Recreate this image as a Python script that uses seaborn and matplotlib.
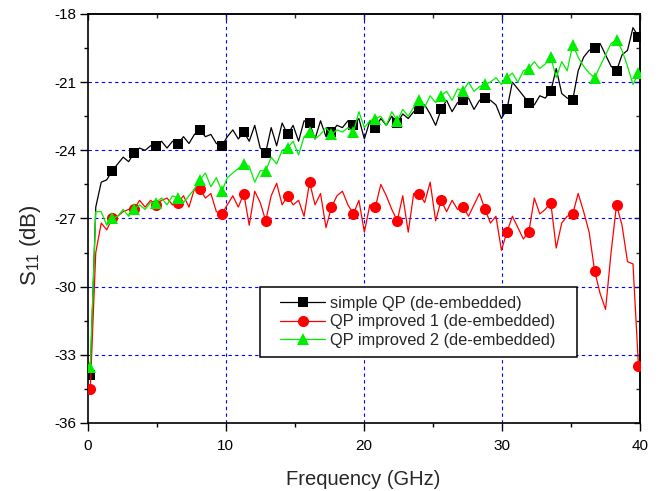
import numpy as np
import pandas as pd
import matplotlib
matplotlib.use("Agg")
import matplotlib.pyplot as plt
import seaborn as sns
from matplotlib.ticker import MultipleLocator, NullFormatter
from matplotlib.patches import Rectangle

sns.set_style("ticks")
plt.rcParams['font.family'] = ['Liberation Sans', 'DejaVu Sans']
plt.rcParams['axes.unicode_minus'] = False
plt.rcParams['mathtext.fontset'] = 'custom'
plt.rcParams['mathtext.rm'] = 'Liberation Sans'
plt.rcParams['mathtext.it'] = 'Liberation Sans'

# frequency grid (GHz)
freq = np.round(np.linspace(0.2, 39.9, 101), 3)

simple_qp = [
    -33.9,
    -26.5, -25.4, -25.3, -24.9,
    -24.6, -24.3, -24.5, -24.1,
    -23.9, -24.0, -23.8, -23.8,
    -23.6, -23.9, -23.6, -23.7,
    -23.4, -23.7, -23.3, -23.1,
    -23.4, -23.3, -23.7, -23.8,
    -23.4, -23.1, -23.5, -23.2,
    -23.6, -22.9, -23.9, -24.1,
    -23.0, -23.8, -22.8, -23.3,
    -22.9, -23.6, -22.7, -22.8,
    -23.5, -22.7, -23.4, -23.2,
    -22.9, -23.0, -22.7, -22.9,
    -22.6, -23.5, -22.7, -23.0,
    -22.6, -22.9, -22.5, -22.8,
    -22.4, -22.6, -22.3, -22.2,
    -22.0, -22.4, -22.9, -22.2,
    -21.8, -22.3, -21.9, -21.8,
    -21.7, -22.2, -21.8, -21.7,
    -21.8, -22.0, -22.6, -22.2,
    -21.0, -21.3, -21.6, -21.9,
    -22.0, -21.6, -21.7, -21.4,
    -20.4, -21.5, -21.7, -21.8,
    -20.5, -19.9, -19.6, -19.5,
    -19.3, -19.8, -20.3, -20.5,
    -19.8, -19.6, -18.6, -19.0,
]

qp_improved_1 = [
    -34.5,
    -28.5, -27.2, -27.5, -27.0,
    -26.9, -26.7, -26.6, -26.6,
    -26.2, -26.5, -26.2, -26.4,
    -26.2, -26.1, -26.4, -26.3,
    -26.0, -26.5, -25.7, -25.7,
    -26.1, -25.9, -26.7, -26.8,
    -26.4, -26.0, -26.5, -25.9,
    -27.3, -25.8, -26.3, -27.1,
    -26.0, -25.45, -26.4, -26.0,
    -26.4, -26.2, -26.9, -25.4,
    -26.4, -25.9, -27.4, -26.5,
    -26.0, -25.8, -26.4, -26.8,
    -26.2, -27.6, -26.4, -26.5,
    -25.5, -26.0, -26.6, -27.1,
    -26.0, -27.6, -25.9, -25.9,
    -26.3, -25.4, -27.1, -26.2,
    -26.7, -26.2, -26.6, -26.5,
    -26.9, -26.4, -25.9, -26.6,
    -27.2, -26.9, -28.4, -27.6,
    -26.9, -27.4, -27.9, -27.6,
    -26.1, -26.8, -26.6, -26.3,
    -28.3, -27.2, -26.9, -26.8,
    -25.9, -26.7, -27.6, -29.3,
    -30.3, -31.0, -28.5, -26.4,
    -27.3, -28.9, -29.0, -33.5,
]

qp_improved_2 = [
    -33.55,
    -26.7, -26.7, -27.3, -27.0,
    -26.9, -26.6, -26.9, -26.6,
    -26.4, -26.6, -26.3, -26.3,
    -26.1, -26.4, -26.0, -26.1,
    -26.3, -26.0, -25.7, -25.3,
    -25.0, -25.6, -25.2, -25.8,
    -25.2, -25.0, -24.8, -24.6,
    -24.7, -25.4, -24.9, -24.9,
    -24.3, -24.6, -24.0, -23.9,
    -23.6, -24.2, -23.4, -23.2,
    -23.5, -23.3, -23.0, -23.3,
    -23.1, -23.2, -23.0, -23.2,
    -22.3, -23.0, -22.7, -22.6,
    -22.5, -22.9, -22.3, -22.7,
    -22.2, -22.5, -22.1, -21.8,
    -22.1, -21.6, -21.9, -21.6,
    -21.4, -21.8, -21.3, -21.4,
    -21.0, -21.4, -21.2, -21.1,
    -21.0, -20.8, -21.1, -20.8,
    -20.6, -21.0, -20.5, -20.4,
    -20.1, -20.4, -20.2, -19.9,
    -20.8, -20.1, -20.5, -19.35,
    -19.9, -20.3, -20.6, -20.8,
    -20.3, -19.8, -19.3, -19.15,
    -19.6, -20.3, -21.1, -20.6,
]

labels = ["simple QP (de-embedded)", "QP improved 1 (de-embedded)", "QP improved 2 (de-embedded)"]
series = [simple_qp, qp_improved_1, qp_improved_2]
colors = ["#000000", "#ff0000", "#00ee00"]
markers = ["s", "o", "^"]
msizes = [7, 8, 8.5]

fig = plt.figure(figsize=(6.61, 4.91), dpi=100)
ax = fig.add_axes([0.1324, 0.1385, 0.8356, 0.833])

for lab, vals, c, m, ms in zip(labels, series, colors, markers, msizes):
    df = pd.DataFrame({"f": freq, "s": vals})
    sns.lineplot(data=df, x="f", y="s", ax=ax, color=c, lw=0.9,
                 marker=m, markersize=ms, markevery=4, markeredgewidth=0,
                 markerfacecolor=c, label=lab, sort=False, estimator=None,
                 zorder=3)

ax.set_xlim(0, 40)
ax.set_ylim(-36, -18)
ax.xaxis.set_major_locator(MultipleLocator(10))
ax.xaxis.set_minor_locator(MultipleLocator(5))
ax.yaxis.set_major_locator(MultipleLocator(3))
ax.yaxis.set_minor_locator(MultipleLocator(1.5))

for v in [10, 20, 30]:
    ax.axvline(v, color="#0000ff", lw=0.8, ls=(0, (3, 3)), zorder=1)
for v in [-21, -24, -27, -30, -33]:
    ax.axhline(v, color="#0000ff", lw=0.8, ls=(0, (3, 3)), zorder=1)

for sp in ax.spines.values():
    sp.set_linewidth(1.2)
    sp.set_color("black")

ax.tick_params(which="both", direction="out", width=1.0, labelsize=11, colors="black")
ax.tick_params(which="major", length=5.8)
ax.tick_params(which="minor", length=3.0)
ax.tick_params(axis="x", which="major", pad=6)
ax.tick_params(axis="y", which="major", pad=2)

# mirrored inward ticks on top and right
secx = ax.secondary_xaxis("top")
secx.xaxis.set_major_locator(MultipleLocator(10))
secx.xaxis.set_minor_locator(MultipleLocator(5))
secx.xaxis.set_major_formatter(NullFormatter())
secx.tick_params(which="both", direction="in", width=1.0)
secx.tick_params(which="major", length=4)
secx.tick_params(which="minor", length=3)
secx.spines["top"].set_linewidth(1.2)
secy = ax.secondary_yaxis("right")
secy.yaxis.set_major_locator(MultipleLocator(3))
secy.yaxis.set_minor_locator(MultipleLocator(1.5))
secy.yaxis.set_major_formatter(NullFormatter())
secy.tick_params(which="both", direction="in", width=1.0)
secy.tick_params(which="major", length=4)
secy.tick_params(which="minor", length=3)
secy.spines["right"].set_linewidth(1.2)

ax.set_xlabel("Frequency (GHz)", fontsize=14.5, labelpad=12)
ax.set_ylabel("S$_{11}$ (dB)", fontsize=16)
ax.yaxis.set_label_coords(-0.08, 0.435)

# legend frame (drawn as a rectangle), entries placed inside
ax.add_patch(Rectangle((0.3122, 0.1614), 0.5738, 0.1711, transform=ax.transAxes,
                       facecolor="white", edgecolor="black", lw=1.1, zorder=6))
leg = ax.legend(loc="center left", bbox_to_anchor=(0.349, 0.247), borderaxespad=0,
                fontsize=11.8, frameon=False, borderpad=0,
                handlelength=2.75, handletextpad=0.3, labelspacing=0.22)
leg.set_zorder(7)

fig.savefig("out.png", dpi=100)
